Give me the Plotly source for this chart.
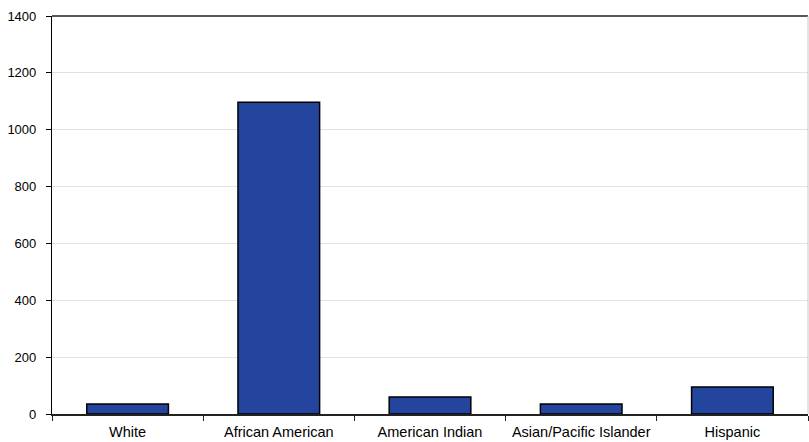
import plotly.graph_objects as go

categories = ["White", "African American", "American Indian", "Asian/Pacific Islander", "Hispanic"]
values = [35, 1097, 60, 35, 95]
y_ticks = [0, 200, 400, 600, 800, 1000, 1200, 1400]

fig = go.Figure(go.Bar(
    x=categories, y=values,
    marker=dict(color="#23459d", line=dict(color="#000000", width=1.5)),
    width=0.54,
))

fig.update_layout(
    width=809, height=442,
    margin=dict(l=52, r=1, t=16, b=28, autoexpand=False),
    paper_bgcolor="white", plot_bgcolor="white",
    showlegend=False,
    font=dict(family="Liberation Sans, Arial, sans-serif", size=12, color="#000000"),
    xaxis=dict(
        type="category", tickson="boundaries", tickangle=0, automargin=False,
        showline=True, linecolor="#222222", linewidth=1.5,
        ticks="outside", ticklen=5, tickcolor="#222222",
        showgrid=False, tickfont=dict(size=14.5), ticklabelstandoff=4,
    ),
    yaxis=dict(
        range=[0, 1400], tickvals=y_ticks, automargin=False,
        showline=True, linecolor="#000000", linewidth=1.2,
        ticks="outside", ticklen=5, tickcolor="#000000",
        gridcolor="#dfe1ef", gridwidth=1, zeroline=False,
        tickfont=dict(size=13), ticklabelstandoff=7,
    ),
    shapes=[
        dict(type="line", xref="paper", yref="paper", x0=0, x1=1, y0=1, y1=1,
             line=dict(color="#222222", width=1.5)),
        dict(type="line", xref="paper", yref="paper", x0=1, x1=1, y0=0, y1=1,
             line=dict(color="#c8c8c8", width=1)),
    ],
)

fig.write_html("out.html", config={"displayModeBar": False},
               post_script="document.body.style.margin='0';")
